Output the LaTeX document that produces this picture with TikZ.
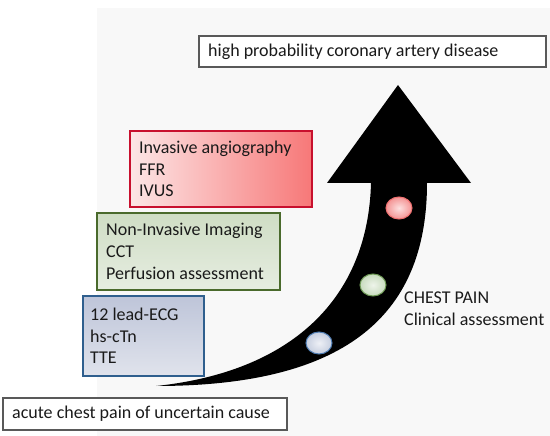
\documentclass[tikz,border=0pt]{standalone}
\usepackage{fontspec}
\setmainfont{Carlito}
\usetikzlibrary{shapes.geometric}
\definecolor{bgg}{HTML}{F8F8F8}
\definecolor{txt}{HTML}{1A1A1A}
\definecolor{redb}{HTML}{C8102E}
\definecolor{grnb}{HTML}{4A6A2C}
\definecolor{blub}{HTML}{2F5F8E}
\definecolor{redL}{HTML}{FCE6E6}
\definecolor{redR}{HTML}{F77878}
\definecolor{grnT}{HTML}{CFDDC4}
\definecolor{grnB}{HTML}{E6EDE1}
\definecolor{bluT}{HTML}{BEC5D9}
\definecolor{bluB}{HTML}{E0E3EC}
\definecolor{dotRb}{HTML}{F07070}
\definecolor{dotRi}{HTML}{FDE0E0}
\definecolor{dotRo}{HTML}{F49494}
\definecolor{dotGb}{HTML}{6E9A55}
\definecolor{dotGi}{HTML}{EEF4EA}
\definecolor{dotGo}{HTML}{C8DBBE}
\definecolor{dotBb}{HTML}{4F7DB3}
\definecolor{dotBi}{HTML}{EEF0F6}
\definecolor{dotBo}{HTML}{C6CEDF}
\tikzset{
  lbl/.style={font=\fontsize{18}{21.7}\selectfont, text=txt, align=left, anchor=west, inner sep=0pt},
  plainbox/.style={draw=black!65, line width=1.2pt, fill=white},
  stagebox/.style={line width=2pt},
  dot/.style={ellipse, minimum width=26pt, minimum height=22pt, inner sep=0pt, line width=1pt}
}
\begin{document}
\begin{tikzpicture}[x=1pt,y=-1pt]
\useasboundingbox (0,0) rectangle (550,436);
\fill[white] (0,0) rectangle (550,436);
\fill[bgg] (97,8) rectangle (550,436);
% arrow
\fill[black] (371,183) -- (327,183) -- (398,85) -- (471,183) -- (427,183)
  .. controls (427,320) and (340,386) .. (156,386)
  .. controls (290,372) and (368,300) .. (371,183) -- cycle;
% dots
\node[dot, draw=dotRb, inner color=dotRi, outer color=dotRo] (dr) at (399,208) {};
\node[dot, draw=dotGb, inner color=dotGi, outer color=dotGo] (dg) at (373,285) {};
\node[dot, draw=dotBb, inner color=dotBi, outer color=dotBo] (db) at (319,343) {};
% top and bottom boxes
\draw[plainbox] (199,36) rectangle (546,67);
\node[lbl] (top) at (208,51.5) {high probability coronary artery disease};
\draw[plainbox] (3,398) rectangle (287,430);
\node[lbl] (bot) at (12,414) {acute chest pain of uncertain cause};
% stage boxes
\draw[stagebox, draw=redb, left color=redL, right color=redR] (130,131) rectangle (312,207);
\node[lbl] (red) at (139,169) {Invasive angiography\\FFR\\IVUS};
\draw[stagebox, draw=grnb, top color=grnT, bottom color=grnB] (97,213) rectangle (280,290);
\node[lbl] (grn) at (106,251.5) {Non-Invasive Imaging\\CCT\\Perfusion assessment};
\draw[stagebox, draw=blub, top color=bluT, bottom color=bluB] (83,296) rectangle (204,376);
\node[lbl] (blu) at (90,336) {12 lead-ECG\\hs-cTn\\TTE};
% side label
\node[lbl] (cp) at (404,309) {CHEST PAIN\\Clinical assessment};
\end{tikzpicture}
\end{document}
